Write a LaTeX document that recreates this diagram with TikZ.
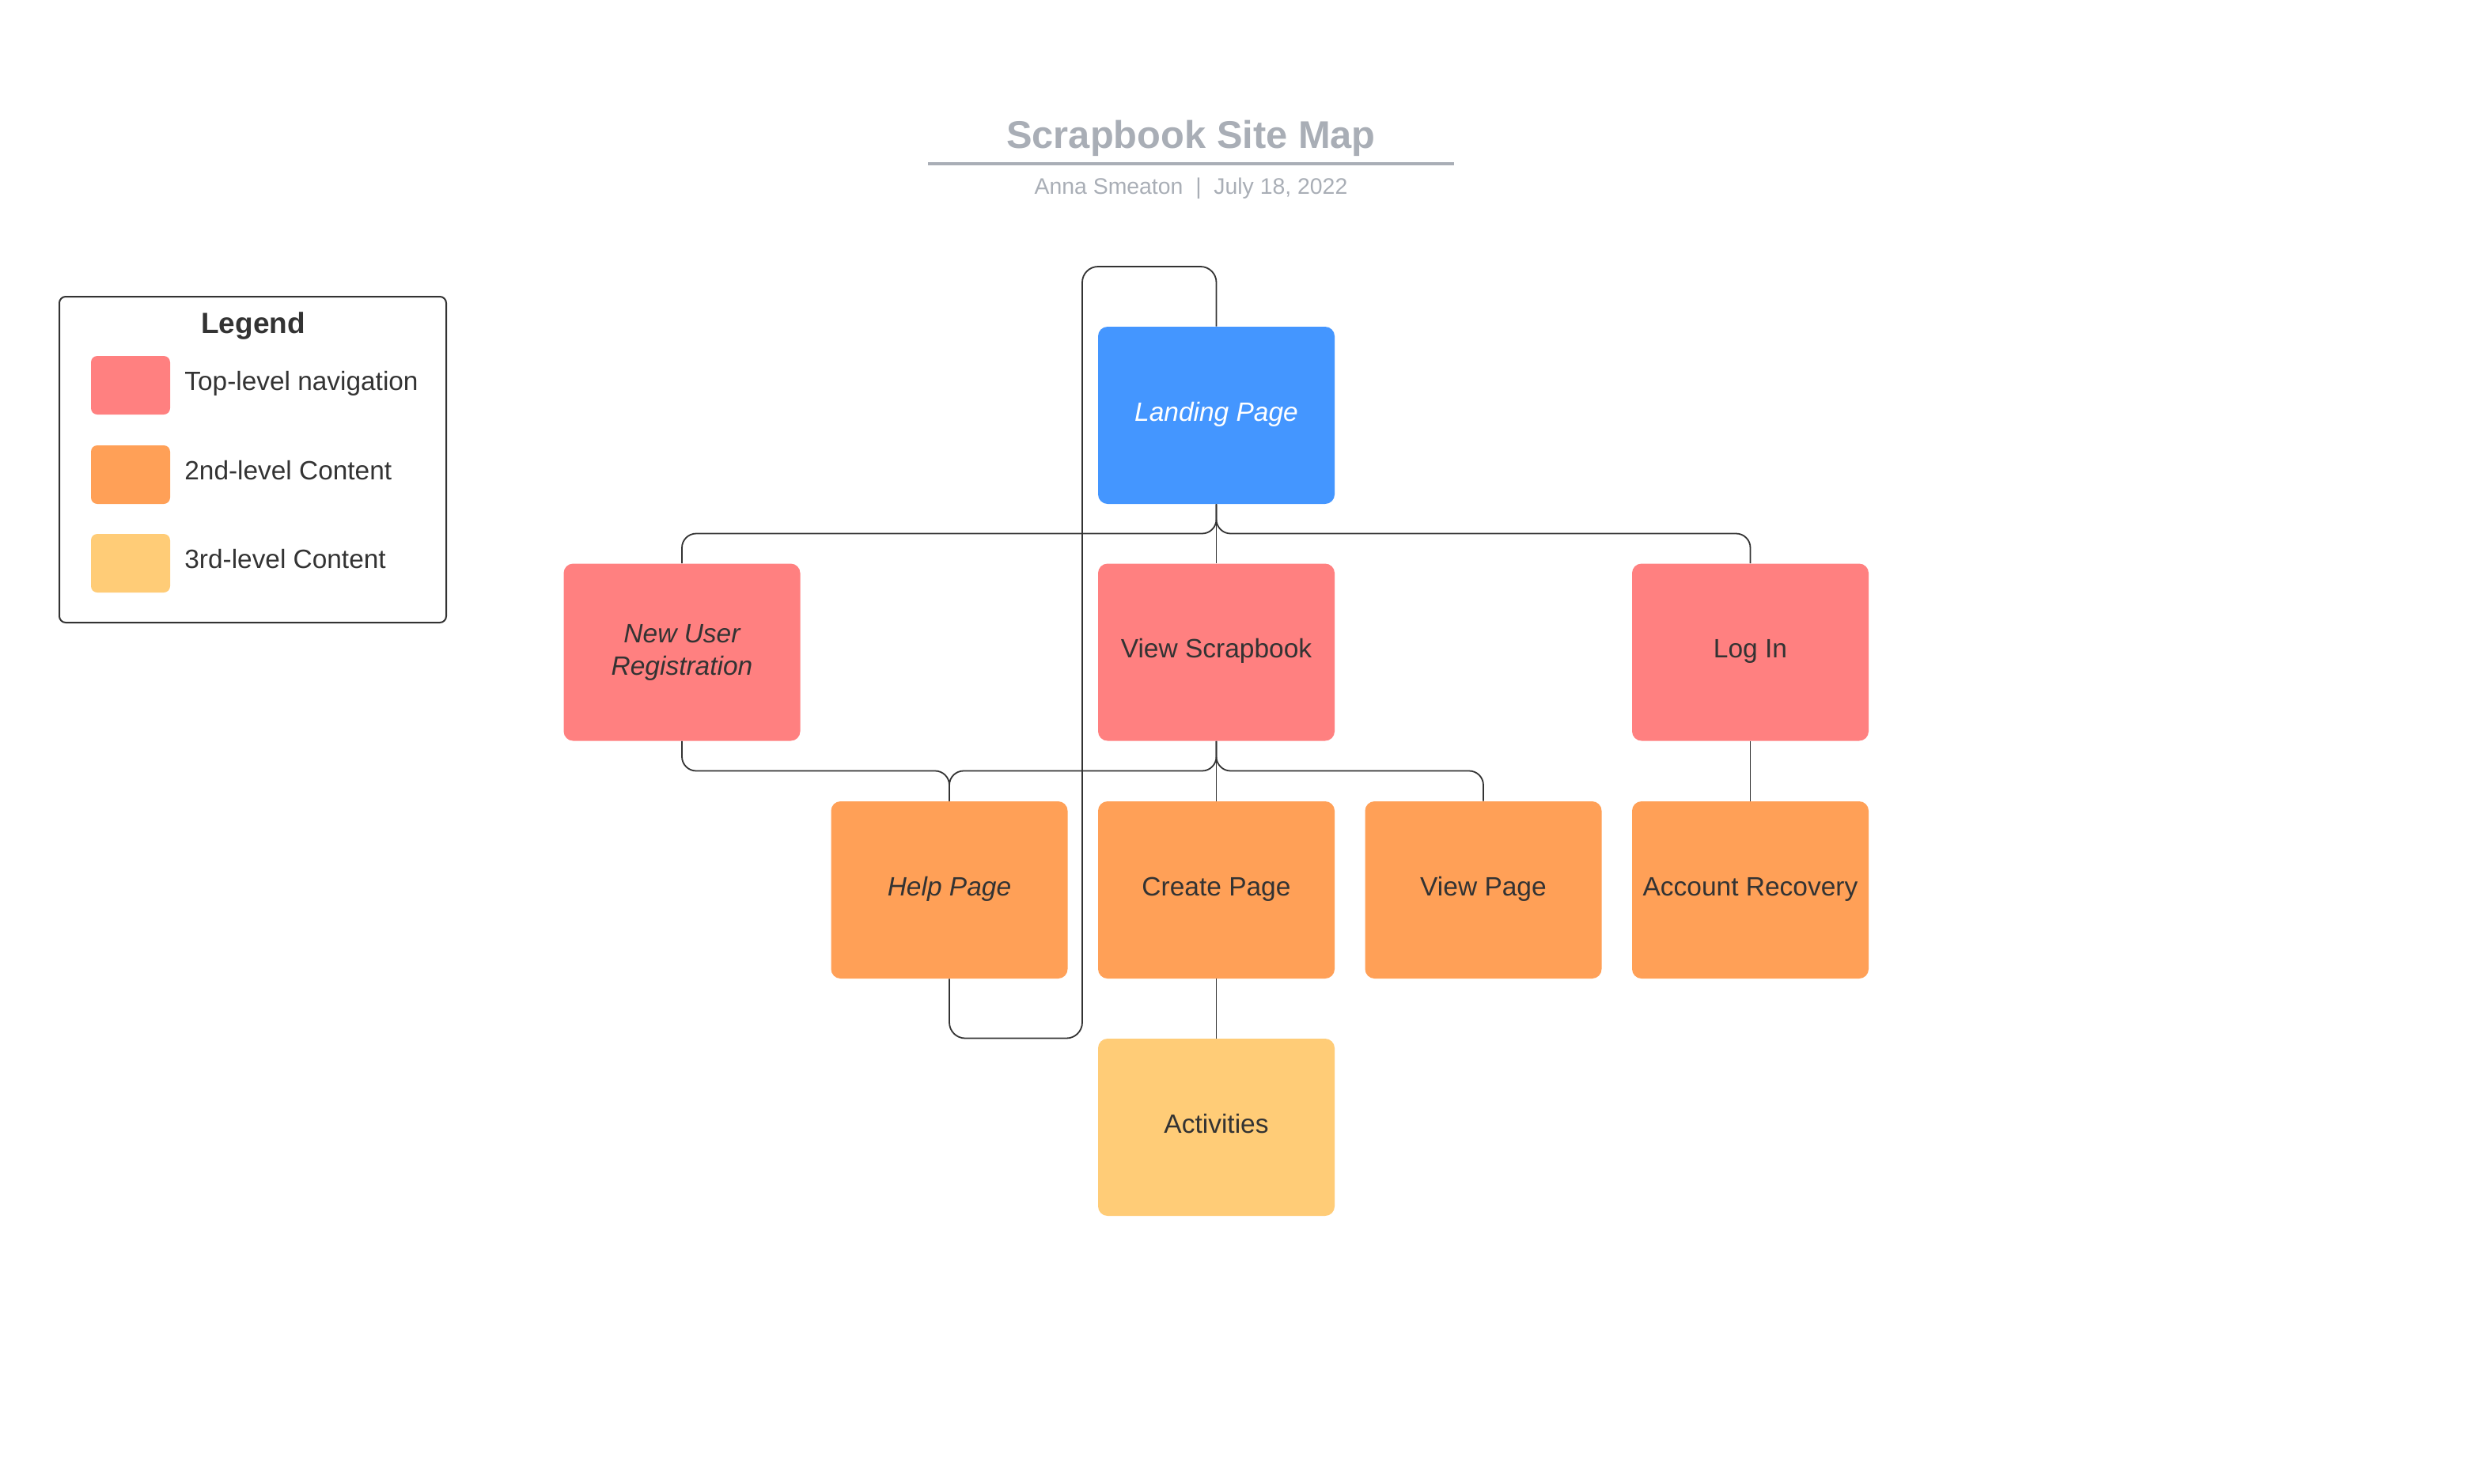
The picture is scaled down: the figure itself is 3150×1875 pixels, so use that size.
\documentclass[tikz,border=0pt]{standalone}
\usepackage{fontspec}
\setmainfont{Liberation Sans}
\usetikzlibrary{calc}
\definecolor{pinkc}{HTML}{FF8080}
\definecolor{orangec}{HTML}{FFA057}
\definecolor{yellowc}{HTML}{FFCC77}
\definecolor{bluec}{HTML}{4496FF}
\definecolor{inkc}{HTML}{333333}
\definecolor{greyc}{HTML}{A9AEB6}
\begin{document}
\begin{tikzpicture}[x=0.5pt,y=-0.5pt,
  pagebase/.style={rectangle, rounded corners=6pt, minimum width=149.5pt, minimum height=112pt, inner sep=0pt, text=inkc, align=center, font=\fontsize{16.75}{20.5}\selectfont},
  pagebox/.style={pagebase, text height=12pt, text depth=5pt},
  toplevel/.style={pagebox, fill=pinkc},
  toplevelmulti/.style={pagebase, fill=pinkc},
  secondlevel/.style={pagebox, fill=orangec},
  thirdlevel/.style={pagebox, fill=yellowc},
  landingbox/.style={pagebox, fill=bluec, text=white},
  link/.style={draw=inkc, line width=0.9pt, rounded corners=9pt},
  straight/.style={draw=inkc, line width=0.55pt},
  swatch/.style={rectangle, rounded corners=4pt, minimum width=50pt, minimum height=37pt, inner sep=0pt},
  legtext/.style={anchor=base west, inner sep=0pt, text=inkc, font=\fontsize{16.7}{20}\selectfont}]
\useasboundingbox (0,0) rectangle (3150,1875);
\fill[white] (0,0) rectangle (3150,1875);

% title
\node[anchor=base, inner sep=0pt, text=greyc, font=\bfseries\fontsize{24.4}{28}\selectfont] (title) at (1505.5,187) {Scrapbook Site Map};
\coordinate (ul1) at (1173,207);
\coordinate (ul2) at (1838,207);
\draw[greyc, line width=2pt] (ul1) -- (ul2);
\node[anchor=base, inner sep=0pt, text=greyc, font=\fontsize{14.2}{17}\selectfont] (subtitle) at (1505.5,245) {Anna Smeaton\ \ |\ \ July 18, 2022};

% legend
\node[draw=inkc, line width=1pt, rounded corners=4pt, minimum width=244.5pt, minimum height=206pt, inner sep=0pt] (legend) at (319.5,581) {};
\node[anchor=base, inner sep=0pt, text=inkc, font=\bfseries\fontsize{18.5}{22}\selectfont] (legtitle) at (320,421) {Legend};
\node[swatch, fill=pinkc] (sw1) at (165,487) {};
\node[swatch, fill=orangec] (sw2) at (165,600) {};
\node[swatch, fill=yellowc] (sw3) at (165,712) {};
\node[legtext] (lt1) at (233,493) {Top-level navigation};
\node[legtext] (lt2) at (233,606) {2nd-level Content};
\node[legtext] (lt3) at (233,718) {3rd-level Content};

% pages
\node[landingbox] (landing) at (1537.5,525) {\itshape Landing Page};
\node[toplevelmulti] (newuser) at (862,824.5) {\itshape New User\\\itshape Registration};
\node[toplevel] (viewscrap) at (1537.5,824.5) {View Scrapbook};
\node[toplevel] (login) at (2212.5,824.5) {Log In};
\node[secondlevel] (help) at (1200,1125) {\itshape Help Page};
\node[secondlevel] (create) at (1537.5,1125) {Create Page};
\node[secondlevel] (viewpage) at (1875,1125) {View Page};
\node[secondlevel] (accrec) at (2212.5,1125) {Account Recovery};
\node[thirdlevel] (activities) at (1537.5,1425) {Activities};

% connectors
\coordinate (bA) at (0,674.5);
\coordinate (bB) at (0,974.5);
\draw[link] (landing.south) -- (landing.south |- bA) -| (newuser.north);
\draw[link] (landing.south) -- (landing.south |- bA) -| (login.north);
\draw[straight] (landing.south) -- (viewscrap.north);
\draw[link] (viewscrap.south) -- (viewscrap.south |- bB) -| (help.north);
\draw[link] (viewscrap.south) -- (viewscrap.south |- bB) -| (viewpage.north);
\draw[straight] (viewscrap.south) -- (create.north);
\draw[link] (newuser.south) -- (newuser.south |- bB) -| (help.north);
\draw[straight] (login.south) -- (accrec.north);
\draw[straight] (create.south) -- (activities.north);
\coordinate (lb) at (1368,1312.5);
\coordinate (ltop) at (1368,337);
\draw[link, rounded corners=10pt] (help.south) |- (lb) -- (ltop) -| (landing.north);
\end{tikzpicture}
\end{document}
